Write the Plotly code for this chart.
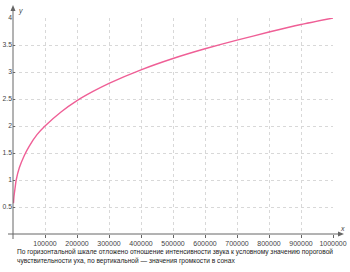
import plotly.graph_objects as go

intensity_ratio = [1500, 3000, 6000, 10000, 20000, 35000, 50000, 75000, 100000, 150000,
                   200000, 250000, 300000, 400000, 500000, 600000, 700000, 800000, 900000, 1000000]
loudness_sones = [0.57, 0.69, 0.83, 1.0, 1.23, 1.45, 1.62, 1.84, 2.0, 2.26,
                  2.47, 2.64, 2.79, 3.04, 3.25, 3.43, 3.59, 3.74, 3.88, 4.0]

x_ticks = [100000, 200000, 300000, 400000, 500000, 600000, 700000, 800000, 900000, 1000000]
y_ticks = [0.5, 1, 1.5, 2, 2.5, 3, 3.5, 4]
y_tick_text = ["0.5", "1", "1.5", "2", "2.5", "3", "3.5", "4"]

caption_line1 = "По горизонтальной шкале отложено отношение интенсивности звука к условному значению пороговой"
caption_line2 = "чувствительности уха, по вертикальной — значения громкости в сонах"

W, H = 350, 272
L, R, T, B = 13, 17, 18, 38
PW, PH = W - L - R, H - T - B


def px(xp):
    return (xp - L) / PW


def py(yp):
    return (H - B - yp) / PH


fig = go.Figure()
fig.add_trace(go.Scatter(x=intensity_ratio, y=loudness_sones, mode="lines",
                         line=dict(color="#ef5f96", width=1.4, shape="spline", smoothing=0.6),
                         hoverinfo="skip", showlegend=False, cliponaxis=False))

axis_col = "#666666"
font = dict(family="Liberation Sans, Arial, sans-serif", size=7, color="#444444")
yfont = dict(family="Liberation Sans, Arial, sans-serif", size=6.8, color="#444444")
cap_font = dict(family="Liberation Sans, Arial, sans-serif", size=6.6, color="#222222")

fig.update_layout(
    width=W, height=H,
    margin=dict(l=L, r=R, t=T, b=B, pad=0, autoexpand=False),
    paper_bgcolor="white", plot_bgcolor="white",
    font=font,
    xaxis=dict(range=[0, 1000000], tickvals=x_ticks, ticktext=[str(v) for v in x_ticks],
               showgrid=True, gridcolor="#d8d8d8", griddash="dot", gridwidth=1,
               zeroline=False, showline=False, ticks="outside", ticklen=3, automargin=False,
               tickcolor=axis_col, tickfont=font, fixedrange=True),
    yaxis=dict(range=[0, 4], tickvals=y_ticks, ticktext=y_tick_text,
               showgrid=True, gridcolor="#d8d8d8", griddash="dot", gridwidth=1,
               zeroline=False, showline=False, ticks="inside", ticklen=2, automargin=False,
               tickcolor=axis_col, tickfont=yfont, fixedrange=True),
    shapes=[
        dict(type="line", xref="paper", yref="paper", x0=px(8), x1=px(339), y0=py(234), y1=py(234),
             line=dict(color=axis_col, width=1)),
        dict(type="line", xref="paper", yref="paper", x0=px(13), x1=px(13), y0=py(239), y1=py(9),
             line=dict(color=axis_col, width=1)),
        dict(type="path", xref="paper", yref="paper",
             path=f"M {px(13)} {py(5)} L {px(10.5)} {py(11)} L {px(15.5)} {py(11)} Z",
             fillcolor=axis_col, line=dict(width=0)),
        dict(type="path", xref="paper", yref="paper",
             path=f"M {px(344)} {py(234)} L {px(338)} {py(231.5)} L {px(338)} {py(236.5)} Z",
             fillcolor=axis_col, line=dict(width=0)),
    ],
    annotations=[
        dict(text="<i>y</i>", xref="paper", yref="paper", x=px(16), y=py(11),
             xanchor="left", yanchor="middle", showarrow=False, font=font),
        dict(text="<i>x</i>", xref="paper", yref="paper", x=px(342), y=py(228),
             xanchor="center", yanchor="middle", showarrow=False, font=font),
        dict(text=caption_line1, xref="paper", yref="paper", x=px(15), y=py(252),
             xanchor="left", yanchor="middle", align="left", showarrow=False, font=cap_font),
        dict(text=caption_line2, xref="paper", yref="paper", x=px(15), y=py(261),
             xanchor="left", yanchor="middle", align="left", showarrow=False, font=cap_font),
    ],
)

fig.write_html("out.html")
